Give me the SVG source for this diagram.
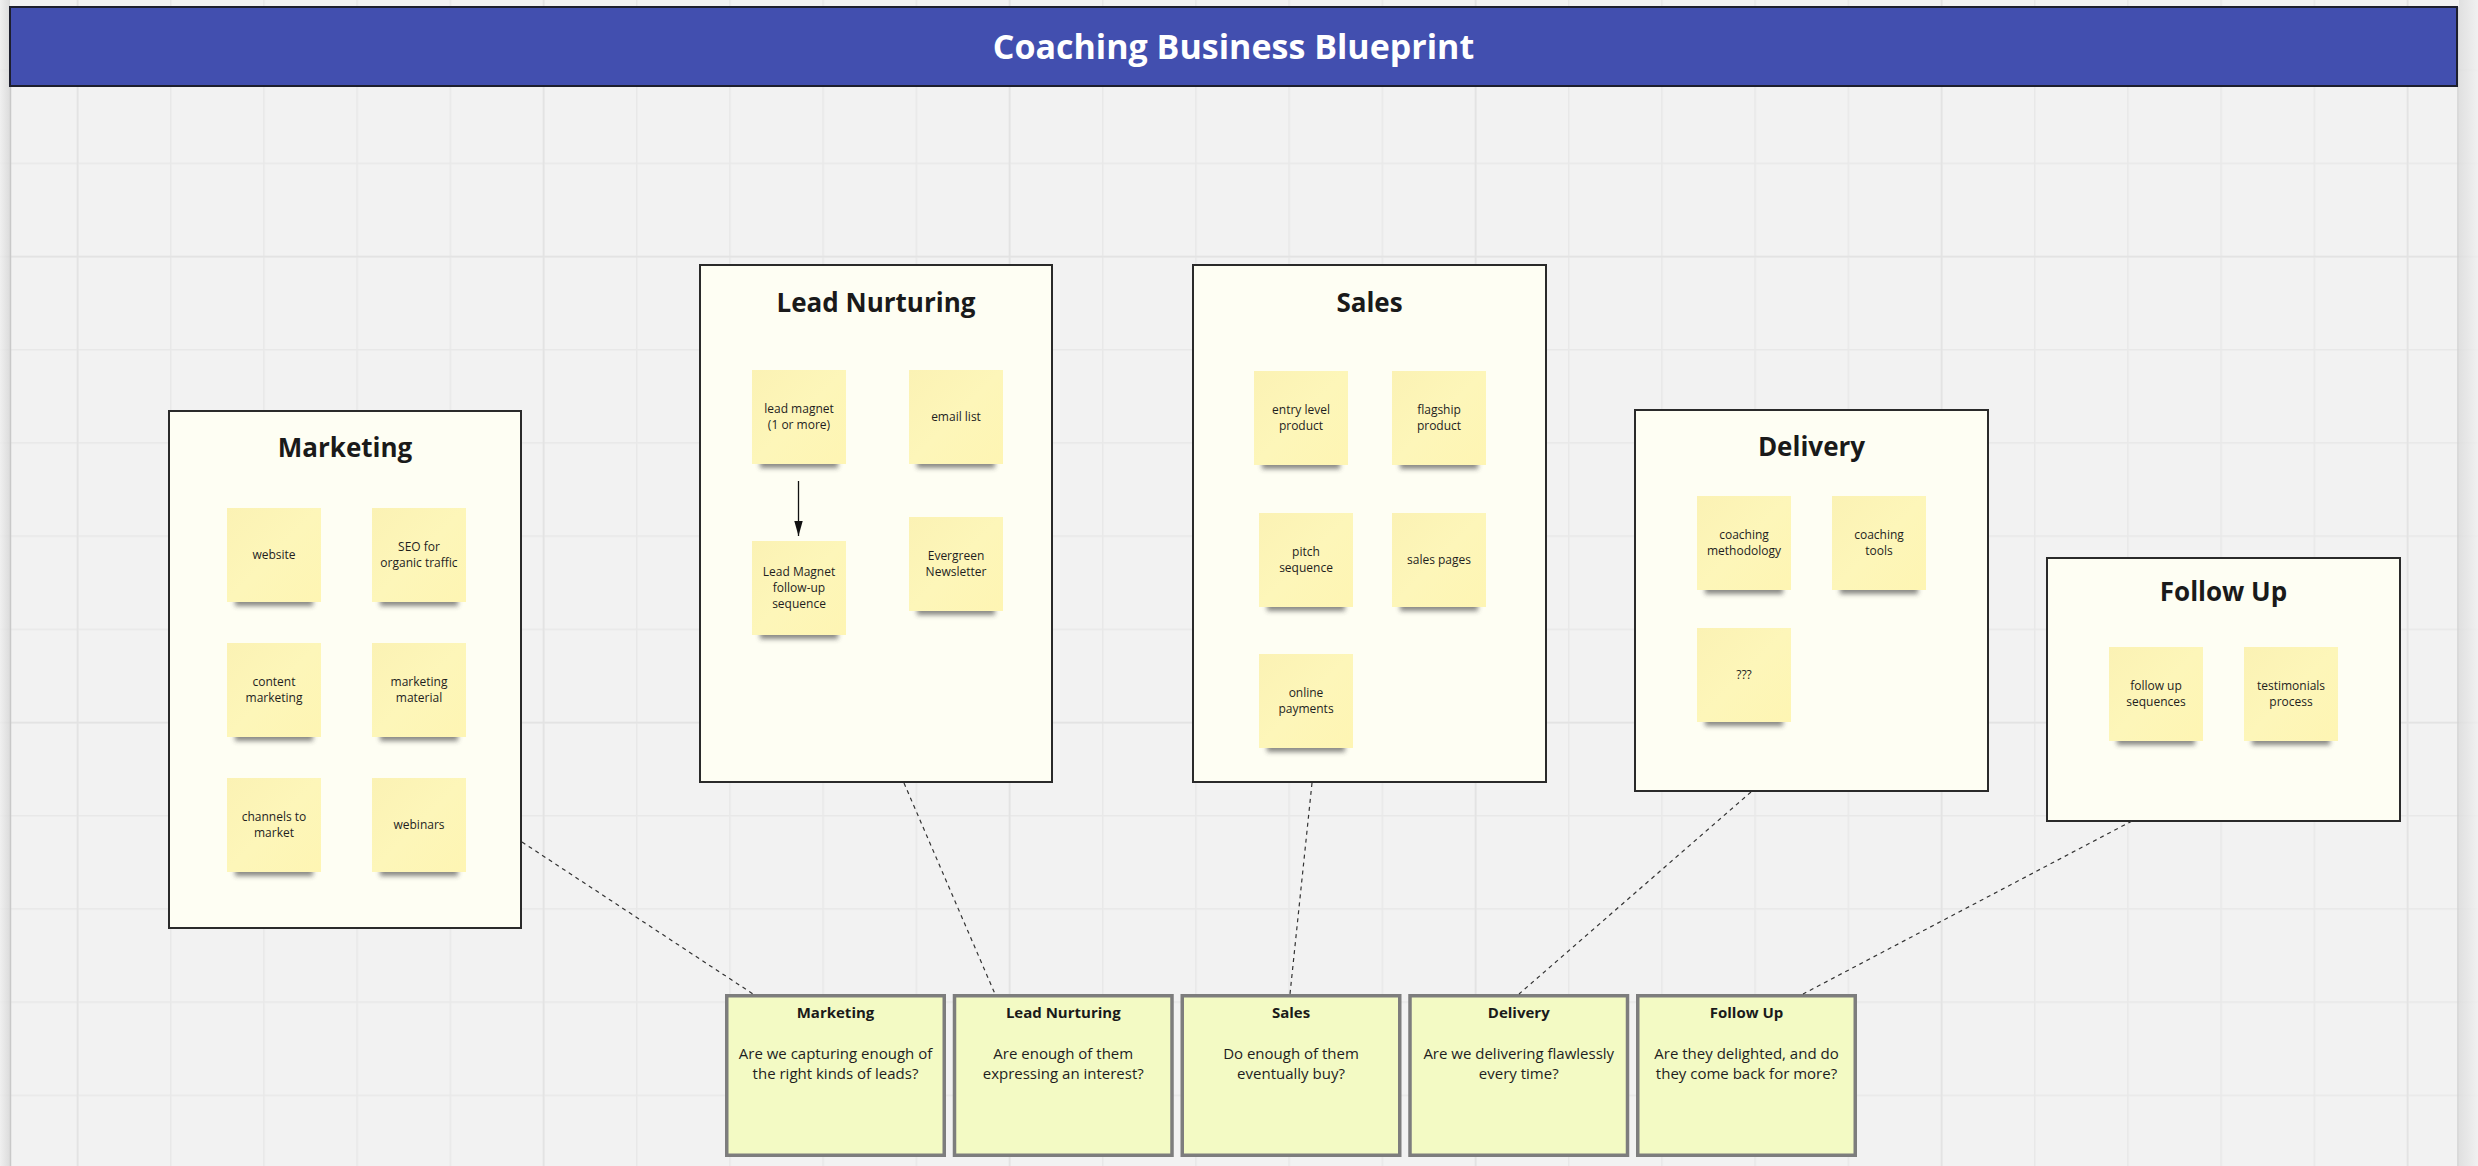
<svg xmlns="http://www.w3.org/2000/svg" xmlns:xlink="http://www.w3.org/1999/xlink" width="2478" height="1166" viewBox="0 0 2478 1166">
<style>
.box{fill:#fefef3;stroke:#2a2a2a;stroke-width:2}
.btitle{font-family:"Open Sans","Liberation Sans",sans-serif;font-weight:700;font-size:26px;fill:#1a1a1a;text-anchor:middle}
.st{font-family:"Open Sans","Liberation Sans",sans-serif;font-size:12px;fill:#1e1e1e;text-anchor:middle}
.card{fill:#f3fac4;stroke:#7d7d7d;stroke-width:3.5}
.ctitle{font-family:"Open Sans","Liberation Sans",sans-serif;font-weight:700;font-size:15px;fill:#1a1a1a;text-anchor:middle}
.cbody{font-family:"Open Sans","Liberation Sans",sans-serif;font-size:15px;fill:#1e1e1e;text-anchor:middle}
.dash{stroke:#333;stroke-width:1.2;stroke-dasharray:4 4;fill:none}
</style>
<defs>
<pattern id="gridMinor" patternUnits="userSpaceOnUse" x="76.75" y="162.55" width="93.2" height="93.2">
<rect x="0" y="0" width="1.5" height="93.2" fill="#e8e8e8"/>
<rect x="0" y="0" width="93.2" height="1.5" fill="#e8e8e8"/>
</pattern>
<pattern id="gridMajor" patternUnits="userSpaceOnUse" x="76.75" y="255.75" width="466" height="466">
<rect x="0" y="0" width="1.5" height="466" fill="#e2e2e2"/>
<rect x="0" y="0" width="466" height="1.5" fill="#e2e2e2"/>
</pattern>
<linearGradient id="shL" x1="1" y1="0" x2="0" y2="0">
<stop offset="0" stop-color="#d6d6d6"/>
<stop offset="1" stop-color="#efefef"/>
</linearGradient>
<linearGradient id="shR" x1="0" y1="0" x2="1" y2="0">
<stop offset="0" stop-color="#dcdcdc"/>
<stop offset="1" stop-color="#f0f0f0"/>
</linearGradient>
<linearGradient id="stickyFill" x1="0" y1="0" x2="1" y2="1">
<stop offset="0" stop-color="#fbf2b4"/>
<stop offset="0.5" stop-color="#fdf6b9"/>
<stop offset="1" stop-color="#fef5b3"/>
</linearGradient>
<filter id="blur" x="-20%" y="-100%" width="140%" height="300%">
<feGaussianBlur stdDeviation="2.5"/>
</filter>
<g id="stickyBg">
<rect x="8" y="84" width="78" height="14" fill="#3a3a3a" opacity="0.6" filter="url(#blur)"/>
<rect x="0" y="0" width="94" height="94" fill="url(#stickyFill)"/>
</g>
<marker id="arrow" markerWidth="15" markerHeight="10" refX="15" refY="5" orient="auto" markerUnits="userSpaceOnUse">
<path d="M0,0.8 L15,5 L0,9.2 z" fill="#111"/>
</marker>
</defs>

<!-- background and grid -->
<rect x="0" y="0" width="2478" height="1166" fill="#f2f2f2"/>
<rect x="0" y="0" width="2478" height="1166" fill="url(#gridMinor)"/>
<rect x="0" y="0" width="2478" height="1166" fill="url(#gridMajor)"/>
<!-- frame edges -->
<rect x="0" y="0" width="10" height="1166" fill="url(#shL)" opacity="0.8"/>
<line x1="10.5" y1="7" x2="10.5" y2="1166" stroke="#c9c9c9" stroke-width="1.5"/>
<rect x="2459" y="0" width="19" height="1166" fill="url(#shR)" opacity="0.8"/>
<line x1="2458" y1="7" x2="2458" y2="1166" stroke="#d2d2d2" stroke-width="1.5"/>

<!-- header -->
<g id="header">
<rect x="10" y="7" width="2447" height="79" fill="#424faf" stroke="#1d1f2e" stroke-width="2"/>
<text x="1233.5" y="59" font-family="'Open Sans','Liberation Sans',sans-serif" font-weight="700" font-size="34" fill="#ffffff" text-anchor="middle">Coaching Business Blueprint</text>
</g>

<!-- Marketing -->
<g id="marketing">
<rect class="box" x="169" y="411" width="352" height="517"/>
<text class="btitle" x="345" y="457">Marketing</text>
</g>
<g id="website" transform="translate(227,508)"><use href="#stickyBg"/><text class="st" x="47" y="50.5">website</text></g>
<g id="seo" transform="translate(372,508)"><use href="#stickyBg"/><text class="st" x="47" y="42.5">SEO for</text><text class="st" x="47" y="58.5">organic traffic</text></g>
<g id="content-marketing" transform="translate(227,643)"><use href="#stickyBg"/><text class="st" x="47" y="42.5">content</text><text class="st" x="47" y="58.5">marketing</text></g>
<g id="marketing-material" transform="translate(372,643)"><use href="#stickyBg"/><text class="st" x="47" y="42.5">marketing</text><text class="st" x="47" y="58.5">material</text></g>
<g id="channels" transform="translate(227,778)"><use href="#stickyBg"/><text class="st" x="47" y="42.5">channels to</text><text class="st" x="47" y="58.5">market</text></g>
<g id="webinars" transform="translate(372,778)"><use href="#stickyBg"/><text class="st" x="47" y="50.5">webinars</text></g>

<!-- Lead Nurturing -->
<g id="lead-nurturing">
<rect class="box" x="700" y="265" width="352" height="517"/>
<text class="btitle" x="876" y="312">Lead Nurturing</text>
</g>
<g id="lead-magnet" transform="translate(752,370)"><use href="#stickyBg"/><text class="st" x="47" y="42.5">lead magnet</text><text class="st" x="47" y="58.5">(1 or more)</text></g>
<g id="email-list" transform="translate(909,370)"><use href="#stickyBg"/><text class="st" x="47" y="50.5">email list</text></g>
<g id="lm-followup" transform="translate(752,541)"><use href="#stickyBg"/><text class="st" x="47" y="34.5">Lead Magnet</text><text class="st" x="47" y="50.5">follow-up</text><text class="st" x="47" y="66.5">sequence</text></g>
<g id="newsletter" transform="translate(909,517)"><use href="#stickyBg"/><text class="st" x="47" y="42.5">Evergreen</text><text class="st" x="47" y="58.5">Newsletter</text></g>

<!-- Sales -->
<g id="sales">
<rect class="box" x="1193" y="265" width="353" height="517"/>
<text class="btitle" x="1369.5" y="312">Sales</text>
</g>
<g id="entry-level" transform="translate(1254,371)"><use href="#stickyBg"/><text class="st" x="47" y="42.5">entry level</text><text class="st" x="47" y="58.5">product</text></g>
<g id="flagship" transform="translate(1392,371)"><use href="#stickyBg"/><text class="st" x="47" y="42.5">flagship</text><text class="st" x="47" y="58.5">product</text></g>
<g id="pitch" transform="translate(1259,513)"><use href="#stickyBg"/><text class="st" x="47" y="42.5">pitch</text><text class="st" x="47" y="58.5">sequence</text></g>
<g id="sales-pages" transform="translate(1392,513)"><use href="#stickyBg"/><text class="st" x="47" y="50.5">sales pages</text></g>
<g id="online-payments" transform="translate(1259,654)"><use href="#stickyBg"/><text class="st" x="47" y="42.5">online</text><text class="st" x="47" y="58.5">payments</text></g>

<!-- Delivery -->
<g id="delivery">
<rect class="box" x="1635" y="410" width="353" height="381"/>
<text class="btitle" x="1811.5" y="456">Delivery</text>
</g>
<g id="methodology" transform="translate(1697,496)"><use href="#stickyBg"/><text class="st" x="47" y="42.5">coaching</text><text class="st" x="47" y="58.5">methodology</text></g>
<g id="tools" transform="translate(1832,496)"><use href="#stickyBg"/><text class="st" x="47" y="42.5">coaching</text><text class="st" x="47" y="58.5">tools</text></g>
<g id="unknown" transform="translate(1697,628)"><use href="#stickyBg"/><text class="st" x="47" y="50.5">???</text></g>

<!-- Follow Up -->
<g id="follow-up">
<rect class="box" x="2047" y="558" width="353" height="263"/>
<text class="btitle" x="2223.5" y="601">Follow Up</text>
</g>
<g id="fu-sequences" transform="translate(2109,647)"><use href="#stickyBg"/><text class="st" x="47" y="42.5">follow up</text><text class="st" x="47" y="58.5">sequences</text></g>
<g id="testimonials" transform="translate(2244,647)"><use href="#stickyBg"/><text class="st" x="47" y="42.5">testimonials</text><text class="st" x="47" y="58.5">process</text></g>

<!-- question cards -->
<g id="q-marketing">
<rect class="card" x="726.75" y="995.75" width="217.5" height="159.5"/>
<text class="ctitle" x="835.5" y="1018">Marketing</text>
<text class="cbody" x="835.5" y="1058.5">Are we capturing enough of</text>
<text class="cbody" x="835.5" y="1079.2">the right kinds of leads?</text>
</g>
<g id="q-lead-nurturing">
<rect class="card" x="954.5" y="995.75" width="217.5" height="159.5"/>
<text class="ctitle" x="1063.25" y="1018">Lead Nurturing</text>
<text class="cbody" x="1063.25" y="1058.5">Are enough of them</text>
<text class="cbody" x="1063.25" y="1079.2">expressing an interest?</text>
</g>
<g id="q-sales">
<rect class="card" x="1182.25" y="995.75" width="217.5" height="159.5"/>
<text class="ctitle" x="1291" y="1018">Sales</text>
<text class="cbody" x="1291" y="1058.5">Do enough of them</text>
<text class="cbody" x="1291" y="1079.2">eventually buy?</text>
</g>
<g id="q-delivery">
<rect class="card" x="1410" y="995.75" width="217.5" height="159.5"/>
<text class="ctitle" x="1518.75" y="1018">Delivery</text>
<text class="cbody" x="1518.75" y="1058.5">Are we delivering flawlessly</text>
<text class="cbody" x="1518.75" y="1079.2">every time?</text>
</g>
<g id="q-follow-up">
<rect class="card" x="1637.75" y="995.75" width="217.5" height="159.5"/>
<text class="ctitle" x="1746.5" y="1018">Follow Up</text>
<text class="cbody" x="1746.5" y="1058.5">Are they delighted, and do</text>
<text class="cbody" x="1746.5" y="1079.2">they come back for more?</text>
</g>

<!-- connectors (drawn last so they sit on top) -->
<g id="connectors">
<line class="dash" x1="522" y1="842" x2="753" y2="994"/>
<line class="dash" x1="904" y1="783" x2="995" y2="994"/>
<line class="dash" x1="1312" y1="783" x2="1290" y2="994"/>
<line class="dash" x1="1751" y1="792" x2="1519" y2="994"/>
<line class="dash" x1="2132" y1="821" x2="1803" y2="994"/>
<line x1="798.5" y1="481" x2="798.5" y2="536" stroke="#111" stroke-width="1.3" marker-end="url(#arrow)"/>
</g>
</svg>
